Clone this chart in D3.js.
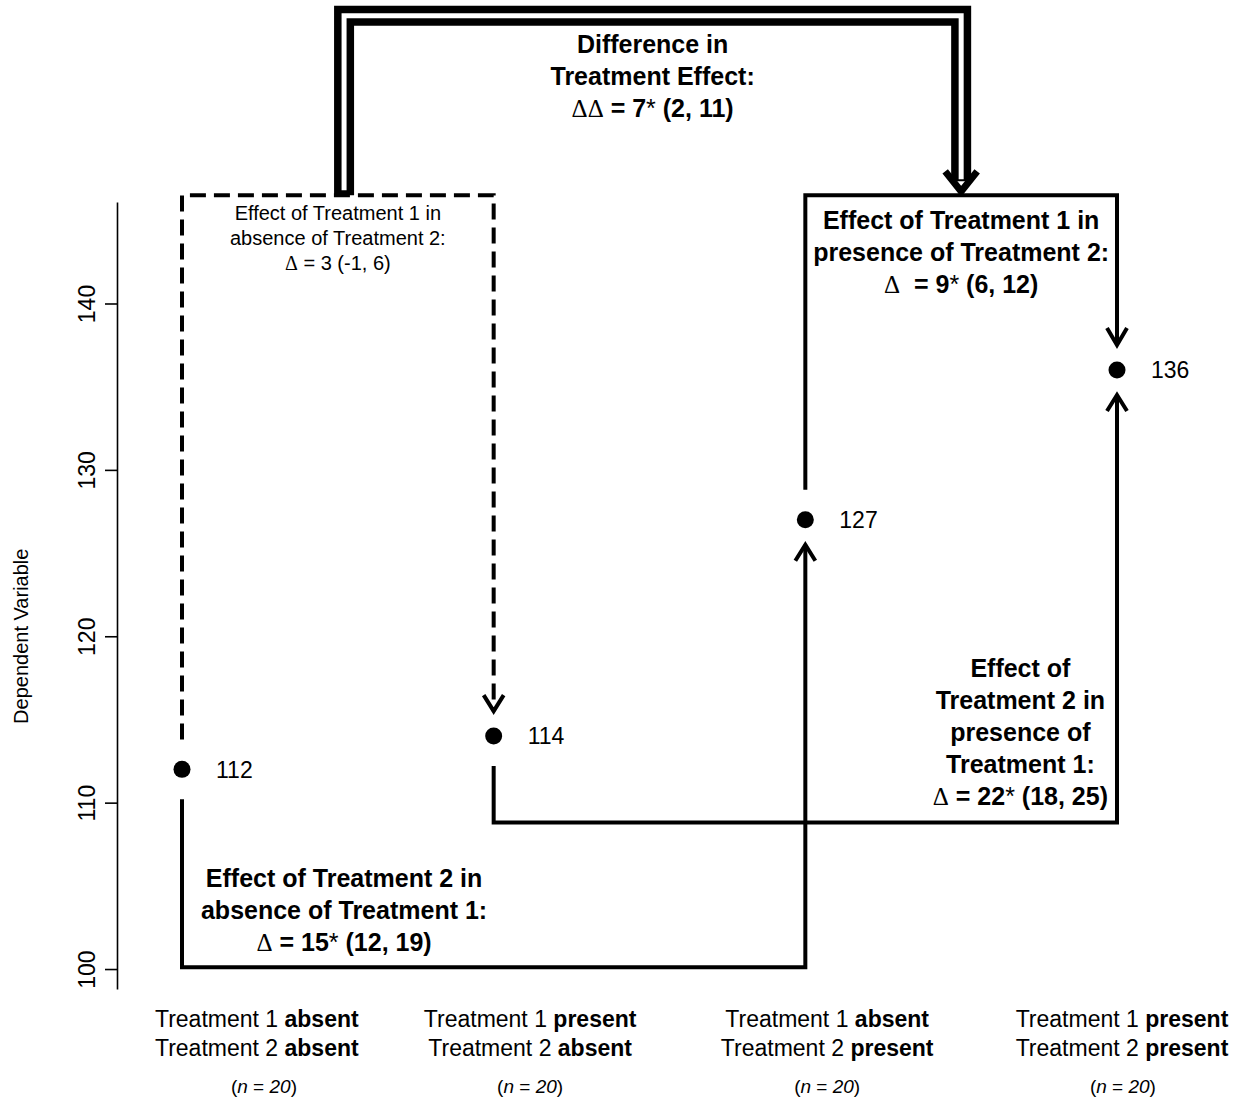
<!DOCTYPE html>
<html>
<head>
<meta charset="utf-8">
<script src="https://cdn.jsdelivr.net/npm/d3@7"></script>
<style>
  body { margin: 0; background: #fff; }
  text { font-family: "Liberation Sans", Arial, sans-serif; fill: #000; white-space: pre; }
</style>
</head>
<body>
<div id="chart"></div>
<script>
// group means (one per treatment combination)
const treatment1 = ['absent', 'present', 'absent', 'present'];
const treatment2 = ['absent', 'absent', 'present', 'present'];
const means = [112, 114, 127, 136];
const sampleSizes = [20, 20, 20, 20];
const yTicks = [100, 110, 120, 130, 140];

// effect annotations
const effectT1absent = ['Effect of Treatment 1 in', 'absence of Treatment 2:', 'Δ = 3 (-1, 6)'];
const effectT1present = ['Effect of Treatment 1 in', 'presence of Treatment 2:', 'Δ  = 9* (6, 12)'];
const effectT2absent = ['Effect of Treatment 2 in', 'absence of Treatment 1:', 'Δ = 15* (12, 19)'];
const effectT2present = ['Effect of', 'Treatment 2 in', 'presence of', 'Treatment 1:', 'Δ = 22* (18, 25)'];
const diffEffect = ['Difference in', 'Treatment Effect:', 'ΔΔ = 7* (2, 11)'];

const W = 1242, H = 1100;
const svg = d3.select('#chart').append('svg').attr('width', W).attr('height', H);

const x = d3.scaleLinear().domain([1, 4]).range([182, 1117]);
const y = d3.scaleLinear().domain([98.8, 146.1]).range([989, 202]);

// y axis
const yAxis = svg.append('g')
  .attr('transform', `translate(117,0)`)
  .call(d3.axisLeft(y).tickValues(yTicks).tickSize(12).tickSizeOuter(0).tickFormat(d3.format('d')));
yAxis.select('.domain').attr('stroke-width', 1.6);
yAxis.selectAll('.tick line').attr('stroke-width', 1.6);
yAxis.selectAll('.tick text')
  .attr('x', null).attr('dy', null)
  .attr('transform', 'translate(-22,0) rotate(-90)')
  .attr('text-anchor', 'middle')
  .style('font-size', '23px')
  .style('font-family', '"Liberation Sans", Arial, sans-serif');

svg.append('text')
  .attr('transform', `translate(28,${y(120)}) rotate(-90)`)
  .attr('text-anchor', 'middle')
  .style('font-size', '20px')
  .text('Dependent Variable');

// text helper: **bold**, _italic_, Δ in serif, * thin
function addLines(cx, y0, lh, lines, size, bold) {
  const t = svg.append('text')
    .attr('text-anchor', 'middle')
    .style('font-size', size + 'px')
    .style('font-weight', bold ? 'bold' : 'normal');
  lines.forEach((line, i) => {
    const parts = line.split(/(\*\*[^*]+\*\*|_[^_]+_|Δ|\*)/).filter(p => p.length);
    parts.forEach((p, j) => {
      const s = t.append('tspan');
      if (j === 0) s.attr('x', cx).attr('y', y0 + i * lh);
      if (p.startsWith('**')) s.style('font-weight', 'bold').text(p.slice(2, -2));
      else if (p.startsWith('_') && p.length > 1) s.style('font-style', 'italic').text(p.slice(1, -1));
      else if (p === 'Δ') s.style('font-family', '"Liberation Serif", serif').style('font-weight', 'normal').text(p);
      else if (p === '*') s.style('font-weight', 'normal').text(p);
      else s.text(p);
    });
  });
}

function chevron(tx, ty, dir, hw, len, sw) {
  // dir = 1 points down, -1 points up
  svg.append('path')
    .attr('d', `M${tx - hw},${ty - dir * len}L${tx},${ty}L${tx + hw},${ty - dir * len}`)
    .attr('fill', 'none').attr('stroke', '#000').attr('stroke-width', sw)
    .attr('stroke-linejoin', 'miter');
}

const boxTop = 146.5, lowBracket = 108.8, baseBracket = 100.1, diffTop = 157.3;
const gapStart = 1.8, gapTip = 1.5;

const lines = svg.append('g').attr('fill', 'none').attr('stroke', '#000').attr('stroke-width', 4);

// T1 effect without T2 (dashed)
lines.append('path')
  .attr('d', `M${x(1)},${y(means[0] + gapStart)}V${y(boxTop)}H${x(2)}V${y(means[1] + gapTip)}`)
  .attr('stroke-dasharray', '16,8');
chevron(x(2), y(means[1] + gapTip), 1, 10, 16, 4);

// T2 effect without T1
lines.append('path')
  .attr('d', `M${x(1)},${y(means[0] - gapStart)}V${y(baseBracket)}H${x(3)}V${y(means[2] - gapTip)}`);
chevron(x(3), y(means[2] - gapTip), -1, 10, 16, 4);

// T2 effect with T1
lines.append('path')
  .attr('d', `M${x(2)},${y(means[1] - gapStart)}V${y(lowBracket)}H${x(4)}V${y(means[3] - gapTip)}`);
chevron(x(4), y(means[3] - gapTip), -1, 10, 16, 4);

// T1 effect with T2
lines.append('path')
  .attr('d', `M${x(3)},${y(means[2] + gapStart)}V${y(boxTop)}H${x(4)}V${y(means[3] + gapTip)}`);
chevron(x(4), y(means[3] + gapTip), 1, 10, 17, 4);

// difference in effect: double arrow
const dl = x(1.52), dr = x(3.5), dTip = y(boxTop) - 4;
svg.append('path')
  .attr('d', `M${dl},${y(boxTop)}V${y(diffTop)}H${dr}V${dTip - 10}`)
  .attr('fill', 'none').attr('stroke', '#000').attr('stroke-width', 20).attr('stroke-linejoin', 'miter');
svg.append('path')
  .attr('d', `M${dl},${y(boxTop) - 5}V${y(diffTop)}H${dr}V${dTip - 12}`)
  .attr('fill', 'none').attr('stroke', '#fff').attr('stroke-width', 5).attr('stroke-linejoin', 'miter');
chevron(dr, dTip, 1, 16, 20, 7);

// group means
svg.append('g').selectAll('circle')
  .data(means)
  .join('circle')
  .attr('cx', (d, i) => x(i + 1))
  .attr('cy', d => y(d))
  .attr('r', 8.5)
  .attr('fill', '#000');

svg.append('g').selectAll('text')
  .data(means)
  .join('text')
  .attr('x', (d, i) => x(i + 1) + 34)
  .attr('y', d => y(d))
  .attr('dy', '0.36em')
  .style('font-size', '23px')
  .text(d => d);

// annotations
addLines((dl + dr) / 2, y(diffTop) + 37, 32, diffEffect, 25, true);
addLines(x(1.5), y(boxTop) + 25, 25, effectT1absent, 20, false);
addLines(x(3.5), y(boxTop) + 34, 32, effectT1present, 25, true);
addLines(x(3.69), y(lowBracket) - 18 - 4 * 32, 32, effectT2present, 25, true);
addLines(x(1.52), y(baseBracket) - 16 - 2 * 32, 32, effectT2absent, 25, true);

// group labels below the axis
const labelPos = [1.24, 2.117, 3.07, 4.016];
const nPos = [1.263, 2.117, 3.07, 4.019];
treatment1.forEach((t1, i) => {
  addLines(x(labelPos[i]), 1027, 29,
    [`Treatment 1 **${t1}**`, `Treatment 2 **${treatment2[i]}**`], 23, false);
  addLines(x(nPos[i]), 1093, 0, [`(_n_ = _${sampleSizes[i]}_)`], 19, false);
});
</script>
</body>
</html>
